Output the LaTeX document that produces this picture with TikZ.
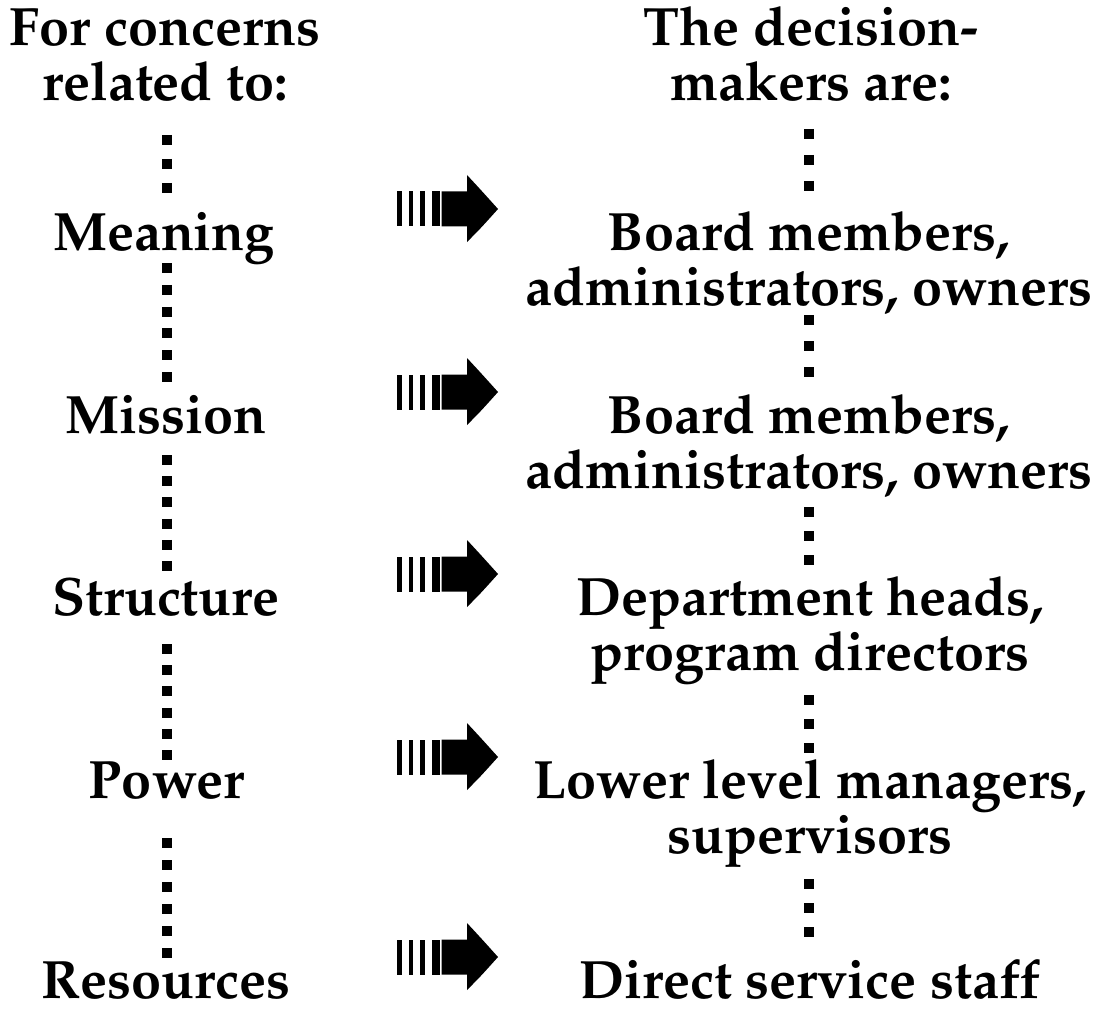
\documentclass[tikz,border=0pt]{standalone}
\usepackage[T1]{fontenc}
\usepackage{mathpazo}
\begin{document}
\begin{tikzpicture}[x=1pt,y=-1pt,
  % multi-line labels: the base anchor sits on the last line's baseline
  lbl/.style={anchor=base, inner sep=0pt, align=center,
    font=\fontsize{54}{55}\selectfont\bfseries},
  dots/.style={line width=10pt, dash pattern=on 10pt off #1},
  pics/fatarrow/.style={code={
    \fill (0,-17.5) rectangle (5,17.5);
    \fill (11.5,-17.5) rectangle (16,17.5);
    \fill (22.5,-17.5) rectangle (28.3,17.5);
    \fill (35,-17.5) rectangle (43.3,17.5);
    \fill (44.5,-17.5) -- (70,-17.5) -- (70,-34)
          .. controls (83,-20) .. (101,0)
          .. controls (83,20) .. (70,33) -- (70,17.5) -- (44.5,17.5) -- cycle;
  }},
  ]
\useasboundingbox (0,0) rectangle (1100,1011);

% column headings
\node[lbl] (lhead) at (165,101) {For concerns\\related to:};
\node[lbl] (rhead) at (811,101) {The decision-\\makers are:};

% areas of concern
\node[lbl] (meaning)   at (164,250) {Meaning};
\node[lbl] (mission)   at (166,433) {Mission};
\node[lbl] (structure) at (166,615) {Structure};
\node[lbl] (power)     at (167,798) {Power};
\node[lbl] (resources) at (166,998) {Resources};

% decision-makers
\node[lbl] (board1) at (809,305) {Board members,\\administrators, owners};
\node[lbl] (board2) at (809,488) {Board members,\\administrators, owners};
\node[lbl] (heads)  at (810,670) {Department heads,\\program directors};
\node[lbl] (lower)  at (810,853) {Lower level managers,\\supervisors};
\node[lbl] (staff)  at (810,998) {Direct service staff};

% arrows between the columns
\pic (a1) at (397,209) {fatarrow};
\pic (a2) at (397,392) {fatarrow};
\pic (a3) at (397,574) {fatarrow};
\pic (a4) at (397,757) {fatarrow};
\pic (a5) at (397,957) {fatarrow};

% dotted links, left column
\coordinate (l0a) at (167,135); \coordinate (l0b) at (167,193);
\coordinate (l1a) at (167,263); \coordinate (l1b) at (167,382);
\coordinate (l2a) at (167,455); \coordinate (l2b) at (167,571);
\coordinate (l3a) at (167,644); \coordinate (l3b) at (167,760);
\coordinate (l4a) at (167,838); \coordinate (l4b) at (167,958);
\draw[dots=14pt]   (l0a) -- (l0b);
\draw[dots=11.8pt] (l1a) -- (l1b);
\draw[dots=11.2pt] (l2a) -- (l2b);
\draw[dots=11.2pt] (l3a) -- (l3b);
\draw[dots=12pt]   (l4a) -- (l4b);

% dotted links, right column
\coordinate (r0a) at (809,129); \coordinate (r0b) at (809,191);
\coordinate (r1a) at (809,315); \coordinate (r1b) at (809,377);
\coordinate (r2a) at (809,507); \coordinate (r2b) at (809,565);
\coordinate (r3a) at (809,695); \coordinate (r3b) at (809,753);
\coordinate (r4a) at (809,879); \coordinate (r4b) at (809,937);
\draw[dots=16pt] (r0a) -- (r0b);
\draw[dots=16pt] (r1a) -- (r1b);
\draw[dots=14pt] (r2a) -- (r2b);
\draw[dots=14pt] (r3a) -- (r3b);
\draw[dots=14pt] (r4a) -- (r4b);
\end{tikzpicture}
\end{document}
